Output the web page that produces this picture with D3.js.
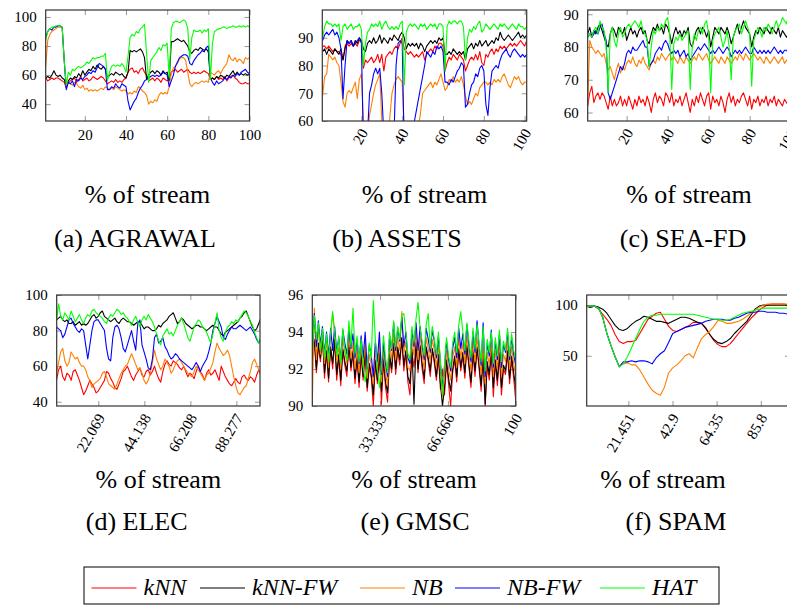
<!DOCTYPE html>
<html>
<head>
<meta charset="utf-8">
<script src="https://cdn.jsdelivr.net/npm/d3@7"></script>
<style>
  body { margin: 0; background: #fff; }
  svg { display: block; }
</style>
</head>
<body>
<div id="chart"></div>
<script>
// series order everywhere: kNN, kNN-FW, NB, NB-FW, HAT
const seriesNames = ["kNN", "kNN-FW", "NB", "NB-FW", "HAT"];
const seriesColors = ["#ff0000", "#000000", "#ff8000", "#0000ff", "#00ff00"];

// AGRAWAL, % of stream 1..100
const agrawalKNN = [58,56,57,58,57,58,58,57,56,55, 51,55,56,57,58,55,57,59,56,57, 58,56,57,59,58,57,58,59,58,56, 54,55,56,55,57,55,56,55,57,58, 62,64,65,62,63,61,64,65,62,60, 56,57,58,56,58,57,55,58,57,56, 57,62,63,64,62,63,64,62,63,64, 62,61,62,61,62,61,62,63,62,61, 57,58,57,59,57,58,57,59,56,58, 59,60,58,57,55,54,54,55,54,54];
const agrawalKNNFW = [58,59,58,60,63,60,59,60,58,57, 52,56,58,57,59,58,61,59,63,60, 62,64,63,66,64,67,65,64,66,64, 58,60,61,60,62,61,60,61,59,58, 62,77,76,77,76,77,78,76,72,57, 60,62,63,61,63,62,60,63,61,62, 56,83,83,84,85,84,83,84,82,80, 76,75,77,78,77,79,78,77,78,76, 57,58,57,59,58,60,59,58,60,59, 61,63,60,62,60,61,60,61,60,61];
const agrawalNB = [66,84,88,90,91,92,93,93,93,70, 52,55,54,53,55,54,52,51,53,50, 51,49,50,49,50,49,50,51,50,52, 51,50,51,50,52,51,50,49,50,49, 47,48,47,49,48,52,51,49,48,46, 40,42,41,43,42,46,48,47,48,47, 52,61,65,66,68,71,72,72,70,62, 54,52,54,55,54,55,56,55,56,55, 62,61,60,62,63,61,64,66,68,74, 71,70,72,69,71,70,68,72,71,72];
const agrawalNBFW = [86,90,92,91,93,93,94,94,93,70, 50,55,54,56,52,57,56,58,57,59, 60,62,61,63,62,65,68,67,66,64, 50,50,52,51,54,52,51,54,53,52, 42,36,39,42,44,48,51,53,56,57, 58,59,60,59,60,59,60,62,61,60, 52,56,60,66,69,72,73,74,74,73, 68,67,70,72,74,75,77,76,79,80, 58,55,53,56,54,55,56,58,57,59, 58,60,59,61,60,62,63,64,62,61];
const agrawalHAT = [84,90,92,93,93,94,94,94,93,70, 53,62,60,64,63,65,66,65,66,67, 69,68,70,72,71,72,72,73,73,75, 56,62,66,67,66,67,66,68,66,62, 73,86,88,87,90,89,92,93,95,75, 55,70,72,74,76,79,77,81,80,82, 58,92,96,97,97,96,97,98,97,92, 71,86,91,90,90,91,89,91,90,92, 57,82,90,91,92,92,93,93,92,93, 93,94,93,93,94,93,94,93,94,93];

// ASSETS, % of stream 1..101
const assetsKNN = [87,87,86,87,86,85,86,85,85,84, 82,87,88,87,88,87,88,87,89,89, 79,82,81,82,83,81,82,84,81,84, 78,83,84,85,84,86,87,86,88,90, 86,85,84,85,84,83,84,83,84,85, 82,84,85,86,85,87,86,88,88,87, 78,81,83,82,84,83,82,84,83,82, 78,80,82,83,82,84,82,85,81,80, 84,83,85,86,84,86,85,87,86,87, 86,87,88,87,88,87,88,89,88,87, 89];
const assetsKNNFW = [85,86,84,86,85,84,86,85,84,86, 82,86,89,88,89,87,89,88,90,89, 86,85,88,89,88,90,88,89,91,88, 90,89,88,90,89,91,90,89,91,92, 90,86,88,87,88,87,88,86,88,87, 85,87,88,89,88,89,88,90,89,90, 84,84,85,84,86,85,84,85,84,85, 82,86,87,88,86,88,87,89,87,88, 89,87,88,89,88,90,89,92,90,89, 90,91,90,89,90,91,92,90,91,90, 91];
const assetsNB = [69,76,77,84,83,82,83,81,80,74, 67,65,70,71,70,72,74,68,75,77, 60,52,55,62,66,70,73,75,77,60, 52,50,52,62,70,73,75,76,75,74, 55,50,48,50,52,50,54,58,63,70, 71,72,73,74,72,74,73,75,77,74, 71,72,75,74,76,74,75,74,76,73, 69,66,67,66,68,70,69,72,73,74, 74,73,74,73,75,74,75,74,76,77, 75,73,72,74,76,75,76,74,73,74, 74];
const assetsNBFW = [89,91,92,91,92,93,91,92,90,86, 68,80,89,88,89,87,88,89,90,88, 50,45,55,70,73,77,79,77,79,70, 55,45,45,48,50,55,80,88,89,88, 50,45,48,50,55,60,64,68,72,76, 80,85,84,83,85,84,87,86,87,85, 74,74,73,75,74,76,78,79,81,80, 65,66,70,73,74,77,76,79,80,78, 66,62,72,78,79,80,79,82,84,85, 86,84,83,85,86,85,84,83,84,83, 84];
const assetsHAT = [90,94,96,95,95,94,95,94,95,89, 94,95,93,94,95,93,94,94,95,93, 80,88,92,93,95,94,95,94,96,93, 95,96,94,93,94,93,94,93,95,96, 73,92,94,95,94,95,94,93,95,94, 95,93,94,95,94,95,93,95,95,94, 78,94,96,95,96,96,95,96,96,94, 82,90,93,92,94,93,95,96,92,93, 95,94,93,94,95,94,93,95,94,95, 94,93,94,95,94,93,95,94,94,93, 94];

// SEA-FD, % of stream 1..101
const seaKNN = [62,66,68,63,65,66,64,66,65,63, 61,65,62,64,62,63,65,62,64,62, 65,63,61,64,62,65,63,64,62,65, 63,60,64,66,63,65,64,62,66,65, 63,66,62,64,63,65,62,64,66,63, 60,64,62,65,63,66,64,62,65,66, 61,65,63,64,62,65,63,60,64,66, 63,65,62,64,63,65,66,64,62,65, 61,64,63,65,62,64,63,65,62,64, 63,65,62,64,63,62,64,63,62,64, 63];
const seaKNNFW = [84,86,83,85,84,86,87,85,83,81, 80,84,86,85,83,86,85,84,86,82, 84,86,84,85,83,85,86,84,85,82, 81,84,86,85,87,85,86,84,87,86, 84,81,84,86,84,85,83,85,84,86, 81,80,83,85,86,84,86,85,83,85, 80,83,86,85,84,86,85,84,86,84, 81,83,85,87,84,86,88,86,85,84, 80,83,85,84,86,85,84,86,85,84, 86,85,84,86,83,85,84,83,84,83, 84];
const seaNB = [62,82,80,79,78,79,78,77,78,75, 73,74,72,70,73,75,72,74,73,75, 76,75,77,75,74,76,75,77,75,74, 73,75,76,75,77,76,78,77,76,77, 78,76,77,76,75,77,76,75,77,76, 75,76,77,76,78,77,76,77,78,76, 75,76,77,76,75,77,76,75,77,76, 75,76,77,76,78,77,76,78,77,76, 77,78,77,76,77,76,75,77,76,75, 76,77,76,75,76,77,75,76,75,76, 75];
const seaNBFW = [83,84,83,84,85,84,86,87,84,82, 66,64,66,68,70,72,74,73,75,78, 79,78,80,79,79,80,81,82,80,80, 74,75,76,78,79,80,79,81,82,81, 79,78,79,78,79,77,78,79,77,78, 76,77,78,79,80,79,80,81,80,79, 78,79,78,79,80,79,78,79,80,79, 77,78,79,78,79,78,79,80,79,78, 78,80,79,78,79,78,79,78,79,78, 79,80,79,78,79,78,79,79,78,79, 78];
const seaHAT = [83,84,83,85,86,84,88,86,85,80, 66,84,86,82,80,84,86,83,84,86, 87,86,87,88,87,86,88,85,84,82, 74,80,85,84,86,85,87,86,88,89, 84,67,81,83,82,84,82,83,84,85, 67,80,84,82,85,86,84,87,88,84, 66,82,84,85,86,83,80,82,85,80, 70,83,85,86,87,84,86,88,86,84, 68,82,84,86,85,83,86,85,87,86, 84,86,88,86,87,89,88,87,90,89, 88];

// ELEC, % of stream 2..100
const elecKNN = [52,58,60,54,52,56,55,52,57,58, 55,52,48,44,46,49,52,50,48,45, 46,48,50,52,57,56,53,51,48,47, 50,53,57,58,60,57,54,52,55,57, 59,55,54,57,58,55,57,60,56,53, 51,57,61,63,61,60,63,62,61,59, 58,60,57,54,56,55,53,57,60,57, 55,52,56,58,55,56,58,55,52,60, 57,54,52,50,49,51,53,51,50,54, 55,53,52,54,53,51,55,58,55];
const elecKNNFW = [86,87,88,86,85,86,84,84,85,83, 84,85,83,84,83,84,86,88,89,87, 88,90,91,88,87,86,85,86,87,85, 84,86,87,86,85,85,84,83,84,85, 85,83,81,82,82,81,80,80,81,83, 82,84,85,86,88,89,90,87,84,85, 87,86,84,83,82,81,82,83,83,82, 82,81,80,81,82,83,82,82,80,78, 77,79,80,81,82,83,84,85,87,88, 90,91,88,85,82,80,81,84,87];
const elecNB = [56,62,68,70,63,60,62,68,66,64, 65,62,60,60,58,54,52,48,50,51, 52,53,56,57,54,50,49,48,47,50, 53,56,58,60,61,64,67,64,61,58, 59,56,52,50,52,56,62,69,64,61, 58,60,64,62,60,56,58,61,63,64, 62,60,58,56,55,54,57,60,58,56, 54,52,55,56,59,62,68,73,70,68, 66,67,69,66,60,54,49,45,44,46, 48,49,53,57,62,64,61,58,56];
const elecNBFW = [82,81,80,76,78,82,86,87,84,82, 80,79,81,80,72,64,72,80,85,86, 86,84,82,80,70,64,63,76,82,83, 81,76,70,68,72,76,80,74,69,84, 86,72,68,64,59,58,64,76,78,73, 74,76,71,69,66,64,65,67,66,64, 63,62,61,60,59,58,60,62,60,57, 60,62,64,68,73,80,84,88,85,82, 76,75,78,80,82,81,81,82,83,82, 81,80,81,82,80,78,75,73,76];
const elecHAT = [86,95,88,86,90,88,86,91,88,85, 87,89,86,84,87,89,88,91,92,90, 89,88,87,85,84,87,89,88,90,92, 91,89,90,88,87,85,83,86,88,85, 82,86,88,86,89,87,85,82,78,74, 72,77,79,81,78,79,77,80,83,85, 87,84,80,76,74,78,82,84,86,85, 82,81,79,76,73,78,84,90,80,76, 74,79,82,83,85,84,86,85,87,89, 91,90,88,85,83,79,76,73,75];

// GMSC, % of stream 0..100
const gmscKNN = [92.5,93.6,91.8,93.2,92.4,93.8,91.5,92.9,91.3,93.1, 92.0,93.5,91.4,92.6,91.1,93.0,92.2,91.6,93.4,91.9, 92.8,91.2,92.5,91.0,92.7,91.4,92.9,90.8,92.1,91.5, 90.0,92.3,91.2,92.8,90.1,92.4,91.0,90.2,92.6,91.8, 93.3,91.7,93.0,92.2,93.6,91.9,92.8,91.3,90.6,92.9, 92.1,93.4,91.8,93.2,92.0,91.2,93.1,92.4,91.6,93.0, 92.3,91.4,92.6,90.9,92.0,90.6,92.3,91.2,90.0,91.8, 92.5,91.3,93.0,91.9,92.7,91.5,93.2,92.1,91.0,92.8, 91.6,93.1,92.0,90.8,92.6,90.0,92.2,91.4,92.9,90.5, 92.3,91.1,92.7,90.6,92.0,91.7,92.8,91.2,92.5,91.5, 90.3];
const gmscKNNFW = [92.8,93.5,92.0,93.4,92.6,93.7,91.8,93.0,91.5,93.2, 92.3,93.6,91.7,92.8,91.4,93.1,92.4,91.9,93.3,92.1, 93.0,91.5,92.7,91.3,92.9,91.6,93.0,91.0,92.3,91.7, 90.6,92.5,91.4,92.9,90.8,92.6,91.3,90.7,92.8,92.0, 93.4,92.0,93.2,92.5,93.7,92.2,93.0,91.6,91.2,93.1, 90.1,93.5,92.0,93.3,92.3,91.5,93.2,92.6,91.9,93.1, 92.5,91.6,92.8,91.2,90.0,91.0,92.5,91.5,90.8,92.0, 92.7,91.6,93.1,92.1,92.9,91.8,93.3,92.3,91.3,93.0, 91.9,93.2,92.2,91.1,92.8,90.1,92.4,91.7,93.0,91.0, 92.5,91.4,92.9,91.0,92.2,91.9,93.0,91.5,92.7,91.8, 91.0];
const gmscNB = [90.0,95.3,92.5,94.2,92.8,94.0,92.3,93.5,92.1,93.8, 95.0,93.9,92.4,93.2,92.0,93.6,92.9,92.3,93.9,92.6, 93.4,92.0,93.1,91.8,93.3,92.1,93.5,91.5,92.8,92.2, 91.2,93.0,91.9,93.4,91.3,93.0,91.8,91.1,93.3,92.5, 93.9,92.5,93.7,93.0,95.1,92.8,93.5,92.1,91.9,93.6, 92.7,94.0,92.5,93.8,92.8,92.0,93.7,93.1,92.4,93.6, 93.0,92.1,93.3,91.8,90.5,91.6,93.0,92.0,91.4,92.6, 93.2,92.1,93.7,92.6,93.4,92.3,93.8,92.8,91.9,93.5, 92.4,93.7,92.7,91.7,93.3,91.2,92.9,92.2,93.5,91.6, 93.0,92.0,93.4,91.6,92.8,92.4,93.5,92.0,93.2,92.3, 91.6];
const gmscNBFW = [93.0,95.0,93.2,94.6,93.3,94.3,92.8,94.0,92.7,94.2, 93.0,94.3,92.9,93.7,92.5,94.1,93.4,92.8,94.2,93.1, 93.9,92.6,93.6,92.3,93.8,92.6,94.0,92.0,93.3,92.7, 91.6,93.5,92.4,94.0,91.7,93.5,92.3,91.6,93.8,93.0, 94.5,93.0,94.2,93.5,94.8,93.2,94.0,92.6,92.3,94.1, 93.2,94.5,93.0,94.3,93.3,92.5,94.2,93.6,92.9,94.1, 93.5,92.6,93.8,92.3,91.0,92.1,93.5,92.5,91.9,93.1, 93.7,92.6,94.2,93.1,93.9,92.8,94.4,93.3,92.4,94.0, 92.9,94.6,93.2,92.2,94.5,91.6,93.4,92.7,94.1,92.1, 93.5,92.5,93.9,92.1,93.3,92.9,94.0,92.5,93.7,92.8, 92.2];
const gmscHAT = [92.8,94.9,93.6,94.5,93.0,94.2,92.6,93.9,92.4,94.0, 95.1,94.0,92.7,93.8,92.3,94.2,93.0,92.5,94.6,93.2, 95.3,92.8,93.8,92.4,93.6,92.2,91.3,92.1,93.4,92.6, 95.7,93.6,92.0,91.0,92.1,93.8,92.6,91.8,94.0,93.1, 94.6,93.2,94.3,93.6,94.9,95.0,94.0,92.8,92.5,94.3, 93.4,94.7,95.6,94.2,93.5,92.7,94.4,95.0,93.1,94.3, 93.6,92.8,94.0,92.4,90.6,92.3,93.7,92.7,92.1,93.4, 94.0,92.9,94.4,95.1,94.0,93.0,94.5,93.5,92.6,94.2, 93.1,94.4,93.4,92.4,94.3,91.9,93.6,92.9,94.0,92.3, 93.7,92.7,94.1,92.4,93.5,93.0,94.2,92.7,93.9,93.0, 92.5];

// SPAM, % of stream 1..99, every 2
const spamKNN = [99,98,99,96,91,86,80,71,64,62, 64,64,65,72,79,86,89,92,93,86, 79,75,74,76,78,80,83,83,82,78, 71,65,61,59,59,62,67,72,77,82, 87,91,95,98,100,101,101,101,101,100];
const spamKNNFW = [99,98,99,98,96,92,86,80,76,75, 77,81,84,86,89,88,86,84,84,83, 82,84,86,88,88,87,85,83,82,77, 71,66,63,62,64,67,72,76,80,84, 90,96,99,100,100,100,100,100,100,100];
const spamNB = [99,99,99,97,88,72,60,49,40,42, 43,41,41,36,29,22,16,13,11,19, 33,38,41,45,50,52,48,58,67,71, 74,79,85,84,82,82,83,84,86,89, 92,95,98,100,101,101,101,101,101,101];
const spamNBFW = [99,99,99,97,88,72,60,49,39,44, 44,45,44,45,45,44,42,48,52,55, 63,72,74,76,78,79,80,81,82,84, 85,86,86,86,85,85,87,88,90,92, 93,93,94,94,93,93,93,92,92,91];
const spamHAT = [99,99,99,97,88,72,60,49,39,42, 49,58,67,76,84,88,90,90,91,91, 91,91,91,91,91,91,91,90,89,88, 87,86,86,85,85,86,88,90,92,93, 94,95,96,97,97,97,97,97,97,97];

// tick values
const agrawalXTicks = [20, 40, 60, 80, 100];
const agrawalYTicks = [40, 60, 80, 100];
const assetsXTicks = [20, 40, 60, 80, 100];
const assetsYTicks = [60, 70, 80, 90];
const seaXTicks = [20, 40, 60, 80, 100];
const seaYTicks = [60, 70, 80, 90];
const elecXTicks = [22.069, 44.138, 66.208, 88.277];
const elecYTicks = [40, 60, 80, 100];
const gmscXTicks = [33.333, 66.666, 100];
const gmscYTicks = [90, 92, 94, 96];
const spamXTicks = [21.451, 42.9, 64.35, 85.8];
const spamYTicks = [50, 100];

const width = 787;
const height = 605;
const serif = '"Liberation Serif", "Times New Roman", serif';

const panels = [
  { id: "a", caption: "(a) AGRAWAL", series: [agrawalKNN, agrawalKNNFW, agrawalNB, agrawalNBFW, agrawalHAT],
    x0: 1, dx: 1, xDomain: [1, 100], yDomain: [28.4, 104.8], xTicks: agrawalXTicks, yTicks: agrawalYTicks, rotate: false,
    left: 45.7, right: 249.5, top: 10, bottom: 121, labelX: 147.5, captionX: 135 },
  { id: "b", caption: "(b) ASSETS", series: [assetsKNN, assetsKNNFW, assetsNB, assetsNBFW, assetsHAT],
    x0: 1, dx: 1, xDomain: [0.85, 101], yDomain: [60, 100], xTicks: assetsXTicks, yTicks: assetsYTicks, rotate: true,
    left: 322.3, right: 526.7, top: 10, bottom: 121, labelX: 424.5, captionX: 397 },
  { id: "c", caption: "(c) SEA-FD", series: [seaKNN, seaKNNFW, seaNB, seaNBFW, seaHAT],
    x0: 1, dx: 1, xDomain: [1, 101], yDomain: [57.4, 91.3], xTicks: seaXTicks, yTicks: seaYTicks, rotate: true,
    left: 587.7, right: 792.7, top: 10, bottom: 121, labelX: 689, captionX: 683 },
  { id: "d", caption: "(d) ELEC", series: [elecKNN, elecKNNFW, elecNB, elecNBFW, elecHAT],
    x0: 2, dx: 1, xDomain: [2.1, 99.6], yDomain: [37.6, 100], xTicks: elecXTicks, yTicks: elecYTicks, rotate: true,
    left: 56.7, right: 260, top: 295, bottom: 406, labelX: 158.3, captionX: 136.7 },
  { id: "e", caption: "(e) GMSC", series: [gmscKNN, gmscKNNFW, gmscNB, gmscNBFW, gmscHAT],
    x0: 0, dx: 1, xDomain: [0, 100], yDomain: [90, 96], xTicks: gmscXTicks, yTicks: gmscYTicks, rotate: true,
    left: 312.3, right: 515.7, top: 295, bottom: 406, labelX: 414, captionX: 415 },
  { id: "f", caption: "(f) SPAM", series: [spamKNN, spamKNNFW, spamNB, spamNBFW, spamHAT],
    x0: 1, dx: 2, xDomain: [1.2, 100], yDomain: [0.4, 110], xTicks: spamXTicks, yTicks: spamYTicks, rotate: true,
    left: 586.7, right: 790, top: 295, bottom: 406, labelX: 663, captionX: 676 }
];

const svg = d3.select("#chart").append("svg")
    .attr("width", width)
    .attr("height", height);

const defs = svg.append("defs");

panels.forEach(p => {
  const x = d3.scaleLinear().domain(p.xDomain).range([p.left, p.right]);
  const y = d3.scaleLinear().domain(p.yDomain).range([p.bottom, p.top]);
  const g = svg.append("g").attr("class", "panel-" + p.id);

  defs.append("clipPath").attr("id", "clip-" + p.id)
    .append("rect")
      .attr("x", p.left).attr("y", p.top)
      .attr("width", p.right - p.left).attr("height", p.bottom - p.top);

  // inside ticks on all four sides, pgfplots style
  const bottomAxis = g.append("g")
      .attr("transform", `translate(0,${p.bottom})`)
      .call(d3.axisBottom(x).tickValues(p.xTicks).tickSizeInner(-5).tickSizeOuter(0)
        .tickPadding(8).tickFormat(d => String(d)));
  g.append("g")
      .attr("transform", `translate(0,${p.top})`)
      .call(d3.axisTop(x).tickValues(p.xTicks).tickSizeInner(-5).tickSizeOuter(0).tickFormat(""));
  g.append("g")
      .attr("transform", `translate(${p.left},0)`)
      .call(d3.axisLeft(y).tickValues(p.yTicks).tickSizeInner(-5).tickSizeOuter(0)
        .tickPadding(9).tickFormat(d => String(d)));
  g.append("g")
      .attr("transform", `translate(${p.right},0)`)
      .call(d3.axisRight(y).tickValues(p.yTicks).tickSizeInner(-5).tickSizeOuter(0).tickFormat(""));

  g.selectAll(".domain").remove();
  g.selectAll(".tick line").attr("stroke", "#999").attr("stroke-width", 1);
  g.selectAll(".tick text").attr("font-size", 15).attr("fill", "#000");

  if (p.rotate) {
    bottomAxis.selectAll(".tick text")
        .attr("y", 0)
        .attr("x", 0)
        .attr("dy", "0.35em")
        .attr("text-anchor", "end")
        .attr("transform", "translate(2,9) rotate(-60)");
  }

  const line = d3.line()
      .x((d, i) => x(p.x0 + i * p.dx))
      .y(d => y(d));

  g.append("g")
      .attr("clip-path", `url(#clip-${p.id})`)
    .selectAll("path")
    .data(p.series)
    .join("path")
      .attr("d", line)
      .attr("fill", "none")
      .attr("stroke", (d, i) => seriesColors[i])
      .attr("stroke-width", 1.1)
      .attr("stroke-linejoin", "round");

  // frame
  g.append("rect")
      .attr("x", p.left).attr("y", p.top)
      .attr("width", p.right - p.left).attr("height", p.bottom - p.top)
      .attr("fill", "none")
      .attr("stroke", "#333")
      .attr("stroke-width", 1.2);

  const row = p.top < 200 ? 0 : 1;
  g.append("text")
      .attr("x", p.labelX)
      .attr("y", row === 0 ? 203 : 487.7)
      .attr("text-anchor", "middle")
      .attr("font-size", 26)
      .text("% of stream");
  g.append("text")
      .attr("x", p.captionX)
      .attr("y", row === 0 ? 246.7 : 530)
      .attr("text-anchor", "middle")
      .attr("font-size", 26)
      .text(p.caption);
});

// legend
const legendLineX = [91.5, 200, 360, 455, 600];
const legend = svg.append("g").attr("class", "legend");
legend.append("rect")
    .attr("x", 84).attr("y", 567)
    .attr("width", 635).attr("height", 37)
    .attr("fill", "#fff")
    .attr("stroke", "#000")
    .attr("stroke-width", 1);

const item = legend.selectAll("g.item")
    .data(seriesNames)
    .join("g")
      .attr("class", "item")
      .attr("transform", (d, i) => `translate(${legendLineX[i]},588)`);
item.append("line")
    .attr("x1", 0).attr("x2", 45)
    .attr("y1", 0).attr("y2", 0)
    .attr("stroke", (d, i) => seriesColors[i])
    .attr("stroke-width", 1.1);
item.append("text")
    .attr("x", 52)
    .attr("y", 7)
    .attr("font-size", 24)
    .attr("font-style", "italic")
    .text(d => d);

// serif everywhere, set inline so it wins over the axis defaults
svg.selectAll("text").style("font-family", serif).style("fill", "#000");
</script>
</body>
</html>
